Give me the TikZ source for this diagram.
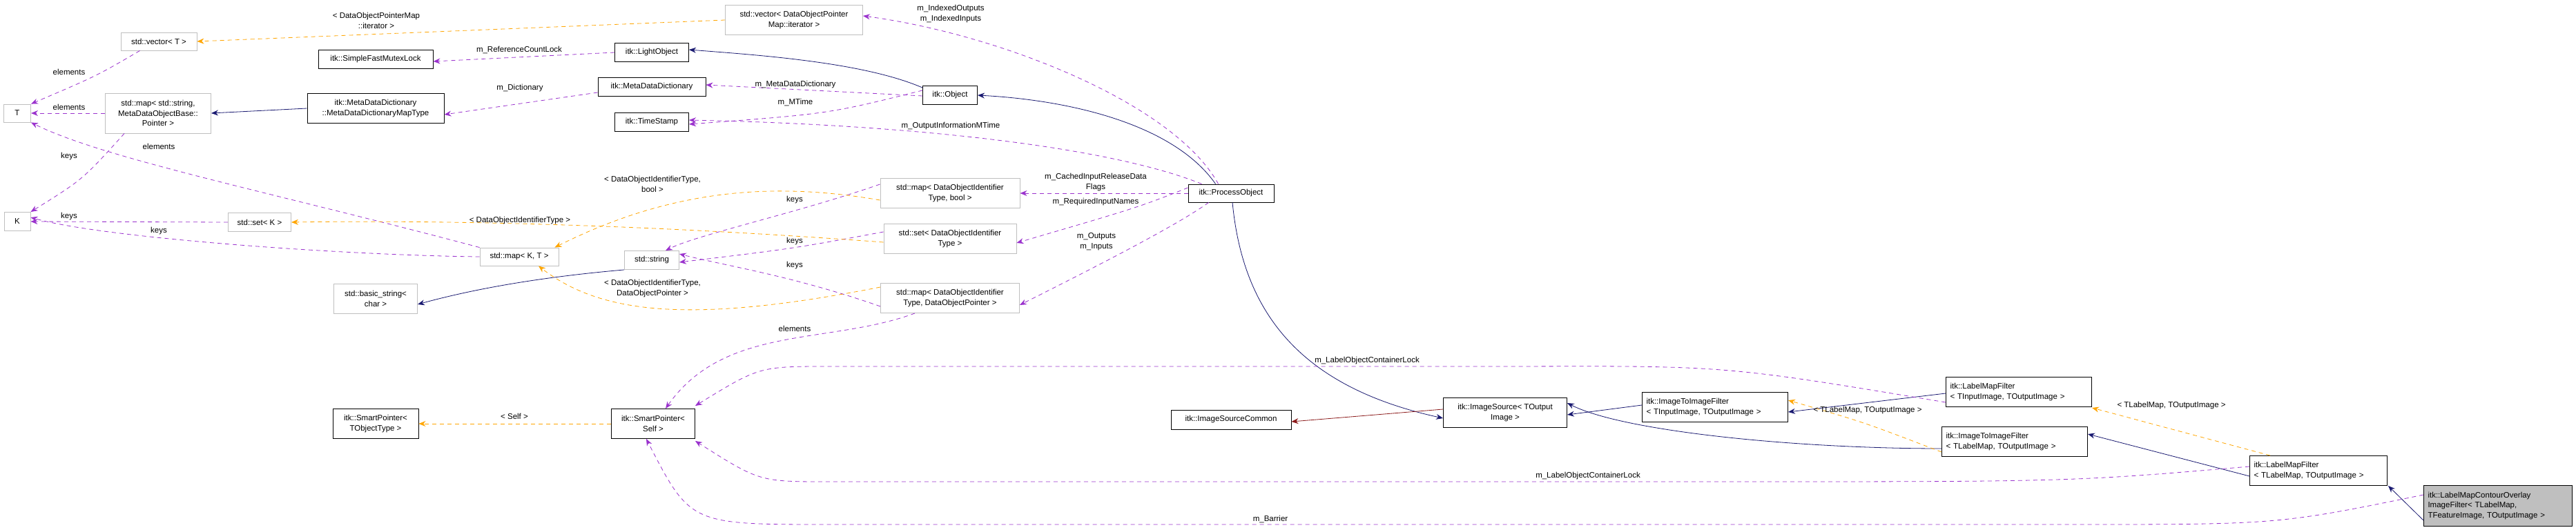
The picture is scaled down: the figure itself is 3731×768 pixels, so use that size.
\documentclass[tikz,border=0pt]{standalone}
\usepackage{fontspec}
\setmainfont{Liberation Sans}
\usetikzlibrary{arrows.meta}
\definecolor{purp}{HTML}{9A32CD}
\definecolor{navy}{HTML}{191970}
\definecolor{orng}{HTML}{FFA500}
\definecolor{redd}{HTML}{8B1A1A}
\begin{document}
\begin{tikzpicture}[x=1pt,y=-1pt,
  every node/.style={font=\fontsize{11.5}{14.5}\selectfont},
  box/.style={draw=black, line width=0.9pt, fill=white, inner sep=0, align=center},
  ext/.style={box, draw=black!25},
  lbl/.style={inner sep=0, align=center},
  tip/.style={-{Stealth[length=10pt,width=8pt]}},
  pa/.style={draw=purp, dashed, dash pattern=on 6pt off 5pt, line width=0.8pt, tip},
  oa/.style={draw=orng, dashed, dash pattern=on 6pt off 5pt, line width=0.8pt, tip},
  ba/.style={draw=navy, line width=0.8pt, tip},
  ra/.style={draw=redd, line width=0.8pt, tip}]
\useasboundingbox (0,0) rectangle (3731,768);
% nodes
\node[ext, minimum width=39, minimum height=26] (T) at (25,164) {T};
\node[ext, minimum width=38, minimum height=27] (K) at (25,321) {K};
\node[ext, minimum width=110, minimum height=26] (vecT) at (230,60) {std::vector< T >};
\node[ext, minimum width=153, minimum height=58] (mapS) at (229,164) {std::map< std::string,\\MetaDataObjectBase::\\Pointer >};
\node[ext, minimum width=91, minimum height=27] (setK) at (376,322) {std::set< K >};
\node[box, minimum width=166, minimum height=27] (mutex) at (544,86) {itk::SimpleFastMutexLock};
\node[box, minimum width=198, minimum height=43] (mdmt) at (544,157) {itk::MetaDataDictionary\\::MetaDataDictionaryMapType};
\node[ext, minimum width=121, minimum height=43] (bstr) at (544,433) {std::basic\_string<\\char >};
\node[box, minimum width=124, minimum height=43] (spT) at (544,614) {itk::SmartPointer<\\TObjectType >};
\node[ext, minimum width=114, minimum height=26] (mapKT) at (752,372) {std::map< K, T >};
\node[ext, minimum width=79, minimum height=27] (str) at (944,377) {std::string};
\node[box, minimum width=107, minimum height=27] (light) at (944,76) {itk::LightObject};
\node[box, minimum width=156, minimum height=27] (mdd) at (944,126) {itk::MetaDataDictionary};
\node[box, minimum width=107, minimum height=27] (ts) at (944,177) {itk::TimeStamp};
\node[box, minimum width=121, minimum height=43] (spS) at (946,614) {itk::SmartPointer<\\Self >};
\node[ext, minimum width=199, minimum height=43] (vecD) at (1150,29) {std::vector< DataObjectPointer\\Map::iterator >};
\node[box, minimum width=79, minimum height=27] (obj) at (1376,138) {itk::Object};
\node[ext, minimum width=202, minimum height=43] (mapB) at (1376,280) {std::map< DataObjectIdentifier\\Type, bool >};
\node[ext, minimum width=192, minimum height=43] (setD) at (1376,346) {std::set< DataObjectIdentifier\\Type >};
\node[ext, minimum width=201, minimum height=43] (mapP) at (1376,432) {std::map< DataObjectIdentifier\\Type, DataObjectPointer >};
\node[box, minimum width=124, minimum height=26] (po) at (1783,280) {itk::ProcessObject};
\node[box, minimum width=174, minimum height=28] (isc) at (1783,608) {itk::ImageSourceCommon};
\node[box, minimum width=179, minimum height=43] (is) at (2180,598) {itk::ImageSource< TOutput\\Image >};
\node[box, minimum width=211, minimum height=43, align=left, text width=199] (itiI) at (2484,590) {itk::ImageToImageFilter\\< TInputImage, TOutputImage >};
\node[box, minimum width=211, minimum height=43, align=left, text width=199] (lmfI) at (2924,568) {itk::LabelMapFilter\\< TInputImage, TOutputImage >};
\node[box, minimum width=211, minimum height=43, align=left, text width=199] (itiL) at (2918,640) {itk::ImageToImageFilter\\< TLabelMap, TOutputImage >};
\node[box, minimum width=199, minimum height=43, align=left, text width=187] (lmfL) at (3358,682) {itk::LabelMapFilter\\< TLabelMap, TOutputImage >};
\node[box, fill=black!25, minimum width=215, minimum height=59, align=left, text width=203] (lco) at (3618,733) {itk::LabelMapContourOverlay\\ImageFilter< TLabelMap,\\ TFeatureImage, TOutputImage >};
% left cluster
\draw[pa] (vecT.south west) ++(28,0) .. controls (140,110) .. (T.north east);
\draw[pa] (mapS.west) -- (T.east);
\draw[pa] (mapS.south west) ++(28,0) .. controls (120,260) .. (K.north east);
\draw[pa] (mapKT.north west) .. controls (400,280) and (150,230) .. (T.south east);
\draw[pa] (mapKT.west) .. controls (500,370) and (150,345) .. ([yshift=6]K.east);
\draw[pa] (setK.west) -- (K.east);
\draw[ba] (mdmt.west) -- (mapS.east);
\draw[pa] (light.west) -- ([yshift=-3]mutex.east);
\draw[pa] ([yshift=-8]mdd.west) -- ([yshift=-9]mdmt.east);
\draw[oa] (vecD.west) -- (vecT.east);
\draw[ba] (obj.north west) ++(0,3) .. controls (1250,90) and (1100,80) .. ([yshift=4]light.east);
\draw[pa] ([yshift=-1]obj.west) -- ([yshift=3]mdd.east);
\draw[pa] ([yshift=7]obj.west) .. controls (1200,165) .. ([yshift=-3]ts.east);
\draw[pa] (po.north west) ++(20,0) .. controls (1600,210) and (1300,180) .. ([yshift=3]ts.east);
\draw[ba] (po.north west) ++(40,0) .. controls (1700,180) and (1550,145) .. (obj.east);
\draw[pa] (po.north west) ++(44,0) .. controls (1700,150) and (1450,50) .. ([yshift=6]vecD.east);
\draw[pa] (po.west) -- (mapB.east);
\draw[pa] ([yshift=8]po.west) .. controls (1650,300) .. ([yshift=-6]setD.east);
\draw[pa] (po.south west) ++(30,0) .. controls (1700,330) and (1560,400) .. ([yshift=-10]mapP.east);
\draw[pa] ([yshift=13]mapB.west) .. controls (1150,310) and (1010,340) .. ([xshift=20]str.north);
\draw[pa] ([yshift=10]setD.west) .. controls (1150,360) .. ([yshift=-3]str.east);
\draw[pa] ([yshift=-12]mapP.west) .. controls (1150,400) and (1050,385) .. ([yshift=9]str.east);
\draw[ba] (str.south west) .. controls (800,400) and (700,415) .. ([yshift=-8]bstr.east);
\draw[oa] ([yshift=-10]mapB.west) .. controls (1130,265) and (980,270) .. ([xshift=-6]mapKT.north east);
\draw[oa] ([yshift=-5]setD.west) .. controls (1000,330) and (700,318) .. (setK.east);
\draw[oa] ([yshift=16]mapP.west) .. controls (1000,470) and (870,455) .. ([xshift=28]mapKT.south);
\draw[pa] (mapP.south west) ++(50,0) .. controls (1200,500) and (1050,470) .. ([xshift=18]spS.north);
\draw[oa] (spS.west) -- (spT.east);
% lower right
\draw[ba] (po.south) ++(2,0) .. controls (1800,450) and (1880,560) .. ([yshift=-8]is.west);
\draw[ra] ([yshift=5]is.west) -- ([yshift=-3]isc.east);
\draw[ba] ([yshift=3]itiI.west) -- ([yshift=-3]is.east);
\draw[ba] ([yshift=-10]itiL.west) .. controls (2600,650) and (2350,625) .. ([yshift=14]is.east);
\draw[ba] ([yshift=-2]lmfI.west) -- ([yshift=-7]itiI.east);
\draw[oa] ([yshift=-15]itiL.west) .. controls (2700,612) .. ([yshift=10]itiI.east);
\draw[ba] ([yshift=-8]lmfL.west) -- ([yshift=11]itiL.east);
\draw[oa] (lmfL.north west) ++(30,0) -- ([yshift=-1]lmfI.south east);
\draw[ba] ([yshift=-21]lco.west) -- ([xshift=1]lmfL.south east);
\draw[pa] ([yshift=-15]lmfI.west) .. controls (2500,530) .. (2200,531) -- (1200,531) .. controls (1100,531) .. ([yshift=4]spS.north east);
\draw[pa] ([yshift=6]lmfL.west) .. controls (3000,698) .. (2500,698) -- (1200,698) .. controls (1100,698) .. ([yshift=-3]spS.south east);
\draw[pa] ([yshift=16]lco.west) .. controls (3300,760) .. (3000,760) -- (1200,760) .. controls (1000,760) .. ([xshift=-10]spS.south);
% labels
\node[lbl] (l1) at (545,30) {< DataObjectPointerMap\\::iterator >};
\node[lbl] (l2) at (100,104) {elements};
\node[lbl] (l3) at (100,155) {elements};
\node[lbl] (l4) at (100,227) {keys};
\node[lbl] (l5) at (230,212) {elements};
\node[lbl] (l6) at (100,314) {keys};
\node[lbl] (l7) at (230,335) {keys};
\node[lbl] (l8) at (752,72) {m\_ReferenceCountLock};
\node[lbl] (l9) at (753,128) {m\_Dictionary};
\node[lbl] (l10) at (1152,123) {m\_MetaDataDictionary};
\node[lbl] (l11) at (1152,148) {m\_MTime};
\node[lbl] (l12) at (1377,183) {m\_OutputInformationMTime};
\node[lbl] (l13) at (1377,20) {m\_IndexedOutputs\\m\_IndexedInputs};
\node[lbl] (l14) at (945,267) {< DataObjectIdentifierType,\\bool >};
\node[lbl] (l15) at (753,320) {< DataObjectIdentifierType >};
\node[lbl] (l16) at (945,418) {< DataObjectIdentifierType,\\DataObjectPointer >};
\node[lbl] (l17) at (1151,290) {keys};
\node[lbl] (l18) at (1151,350) {keys};
\node[lbl] (l19) at (1151,385) {keys};
\node[lbl] (l20) at (1151,476) {elements};
\node[lbl] (l21) at (1587,264) {m\_CachedInputReleaseData\\Flags};
\node[lbl] (l22) at (1587,293) {m\_RequiredInputNames};
\node[lbl] (l23) at (1588,350) {m\_Outputs\\m\_Inputs};
\node[lbl] (l24) at (745,603) {< Self >};
\node[lbl] (l25) at (1980,523) {m\_LabelObjectContainerLock};
\node[lbl] (l26) at (2300,690) {m\_LabelObjectContainerLock};
\node[lbl] (l27) at (1840,752) {m\_Barrier};
\node[lbl] (l28) at (2705,595) {< TLabelMap, TOutputImage >};
\node[lbl] (l29) at (3145,588) {< TLabelMap, TOutputImage >};
\end{tikzpicture}
\end{document}
